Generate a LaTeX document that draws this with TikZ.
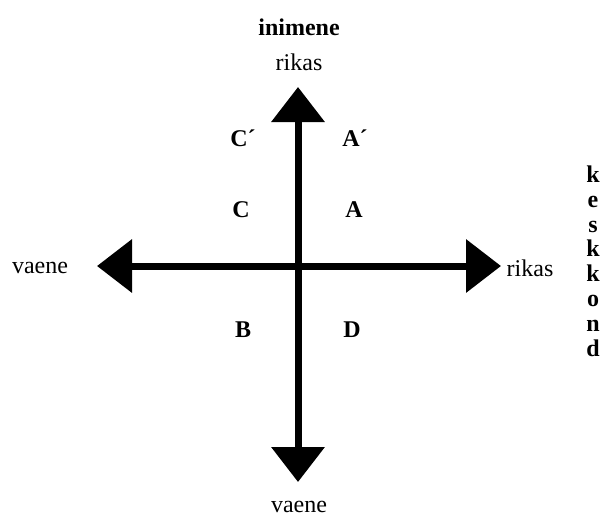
\documentclass[tikz,border=0pt]{standalone}
\usepackage{fontspec}
\setmainfont{Liberation Serif}
\usepackage{tikz}
\usetikzlibrary{arrows.meta,positioning}

\begin{document}
\begin{tikzpicture}[x=0.5pt,y=-0.5pt,
  axis/.style={{Triangle[width=26pt,length=17.5pt]}-{Triangle[width=26pt,length=17.5pt]},line width=3.5pt},
  lbl/.style={font=\fontsize{12}{12.4}\selectfont,inner sep=0pt},
  quad/.style={font=\fontsize{12}{12.4}\selectfont\bfseries,inner sep=0pt}
]
  \useasboundingbox (0,0) rectangle (608,521);
  % axis ends
  \coordinate (up) at (298,87);
  \coordinate (down) at (298,482);
  \coordinate (west) at (97,266);
  \coordinate (east) at (501,266);
  \draw[axis] (west) -- (east);
  \draw[axis] (down) -- (up);
  % axis labels
  \node[quad] (person) at (299,27) {inimene};
  \node[lbl] (rich1) at (299,62) {rikas};
  \node[lbl] (poor1) at (299,507) {vaene};
  \node[lbl] (poor2) at (40,268) {vaene};
  \node[lbl] (rich2) at (530,268) {rikas};
  \node[quad,align=center] (env) at (593,261) {k\\e\\s\\k\\k\\o\\n\\d};
  % quadrants
  \node[quad] (cp) at (243,138) {C´};
  \node[quad] (ap) at (355,138) {A´};
  \node[quad] (c) at (241,210) {C};
  \node[quad] (a) at (354,210) {A};
  \node[quad] (b) at (243,330) {B};
  \node[quad] (d) at (352,330) {D};
\end{tikzpicture}
\end{document}
